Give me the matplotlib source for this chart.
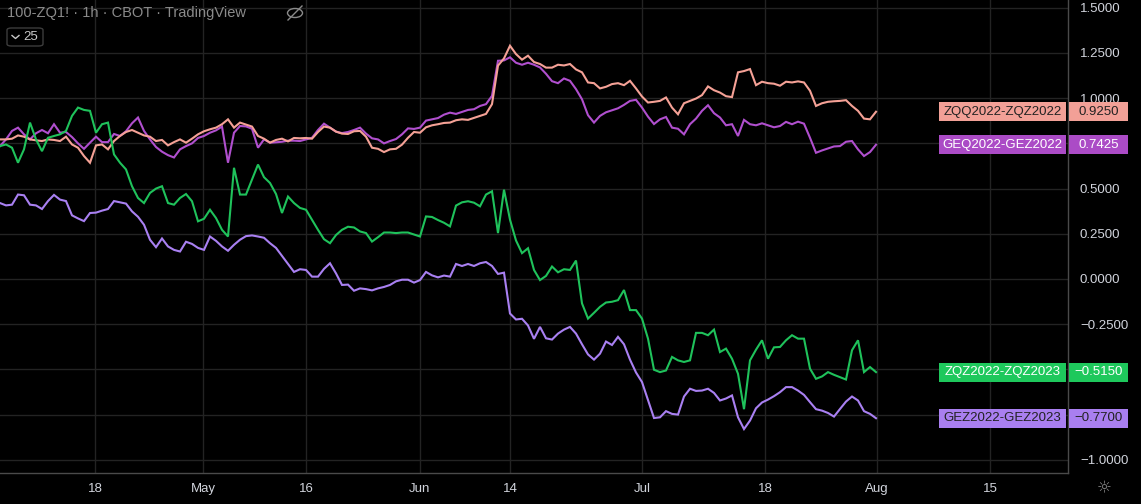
import numpy as np
import matplotlib
matplotlib.use('Agg')
import matplotlib.pyplot as plt
from matplotlib import transforms
from matplotlib.patches import Rectangle, FancyBboxPatch, Ellipse
from matplotlib.lines import Line2D

plt.rcParams['font.family'] = ['Liberation Sans', 'DejaVu Sans']

W, H = 1141, 504

# ── данни (по една точка на ~половин търговски ден) ──
zqq_22 = [
    0.772, 0.772, 0.776, 0.794, 0.787, 0.772, 0.767, 0.763, 0.772, 0.769,
    0.763, 0.787, 0.744, 0.726, 0.680, 0.643, 0.739, 0.744, 0.717, 0.763,
    0.791, 0.813, 0.824, 0.809, 0.794, 0.787, 0.763, 0.769, 0.739, 0.757,
    0.772, 0.754, 0.776, 0.800, 0.817, 0.828, 0.837, 0.856, 0.883, 0.837,
    0.865, 0.854, 0.843, 0.791, 0.776, 0.754, 0.769, 0.776, 0.761, 0.780,
    0.778, 0.780, 0.776, 0.813, 0.843, 0.837, 0.815, 0.804, 0.802, 0.817,
    0.819, 0.787, 0.726, 0.720, 0.702, 0.717, 0.720, 0.743, 0.781, 0.813,
    0.809, 0.839, 0.850, 0.856, 0.863, 0.865, 0.878, 0.883, 0.880, 0.891,
    0.902, 0.913, 0.967, 1.180, 1.220, 1.290, 1.244, 1.213, 1.235, 1.200,
    1.189, 1.169, 1.169, 1.185, 1.181, 1.189, 1.159, 1.143, 1.087, 1.083,
    1.054, 1.063, 1.078, 1.083, 1.072, 1.096, 1.054, 1.009, 0.976, 0.980,
    0.985, 1.004, 0.948, 0.911, 0.972, 0.985, 0.998, 1.017, 1.065, 1.044,
    1.031, 1.011, 1.006, 1.143, 1.150, 1.161, 1.072, 1.091, 1.083, 1.080,
    1.069, 1.091, 1.087, 1.093, 1.087, 1.041, 0.957, 0.972, 0.980, 0.983,
    0.985, 0.989, 0.957, 0.930, 0.887, 0.883, 0.925,
]
geq_22 = [
    0.735, 0.772, 0.819, 0.837, 0.800, 0.772, 0.806, 0.824, 0.806, 0.856,
    0.809, 0.813, 0.785, 0.750, 0.720, 0.754, 0.787, 0.757, 0.757, 0.802,
    0.791, 0.817, 0.861, 0.893, 0.819, 0.772, 0.730, 0.704, 0.685, 0.672,
    0.717, 0.735, 0.750, 0.780, 0.791, 0.809, 0.822, 0.843, 0.643, 0.809,
    0.846, 0.844, 0.831, 0.726, 0.772, 0.754, 0.756, 0.759, 0.765, 0.765,
    0.763, 0.772, 0.781, 0.824, 0.859, 0.837, 0.815, 0.807, 0.813, 0.824,
    0.837, 0.804, 0.778, 0.772, 0.750, 0.763, 0.774, 0.800, 0.833, 0.830,
    0.837, 0.876, 0.883, 0.890, 0.909, 0.920, 0.913, 0.924, 0.935, 0.939,
    0.957, 0.967, 1.013, 1.207, 1.209, 1.226, 1.196, 1.185, 1.196, 1.185,
    1.170, 1.135, 1.094, 1.083, 1.109, 1.096, 1.050, 0.994, 0.906, 0.865,
    0.902, 0.922, 0.933, 0.944, 0.963, 0.985, 0.991, 0.948, 0.898, 0.857,
    0.883, 0.896, 0.837, 0.831, 0.800, 0.856, 0.887, 0.930, 0.961, 0.917,
    0.893, 0.850, 0.856, 0.791, 0.880, 0.856, 0.850, 0.861, 0.850, 0.839,
    0.846, 0.869, 0.856, 0.870, 0.859, 0.781, 0.698, 0.711, 0.722, 0.733,
    0.735, 0.759, 0.763, 0.717, 0.680, 0.702, 0.7425,
]
zqz_23 = [
    0.735, 0.744, 0.726, 0.643, 0.717, 0.865, 0.772, 0.707, 0.781, 0.791,
    0.800, 0.819, 0.902, 0.948, 0.935, 0.930, 0.809, 0.856, 0.865, 0.689,
    0.643, 0.606, 0.513, 0.448, 0.420, 0.476, 0.500, 0.513, 0.420, 0.411,
    0.448, 0.470, 0.430, 0.319, 0.333, 0.383, 0.337, 0.272, 0.235, 0.615,
    0.467, 0.467, 0.550, 0.633, 0.563, 0.531, 0.470, 0.365, 0.456, 0.420,
    0.393, 0.383, 0.328, 0.272, 0.220, 0.198, 0.243, 0.272, 0.289, 0.285,
    0.263, 0.254, 0.207, 0.231, 0.257, 0.257, 0.254, 0.257, 0.257, 0.246,
    0.235, 0.346, 0.343, 0.326, 0.311, 0.291, 0.406, 0.424, 0.430, 0.422,
    0.402, 0.467, 0.485, 0.254, 0.494, 0.328, 0.213, 0.143, 0.170, 0.050,
    -0.006, 0.017, 0.069, 0.037, 0.054, 0.050, 0.102, -0.135, -0.219, -0.187,
    -0.154, -0.130, -0.126, -0.117, -0.061, -0.172, -0.172, -0.219, -0.330, -0.502,
    -0.515, -0.506, -0.431, -0.450, -0.459, -0.450, -0.298, -0.298, -0.311, -0.280,
    -0.404, -0.385, -0.441, -0.524, -0.720, -0.450, -0.391, -0.339, -0.441, -0.378,
    -0.376, -0.339, -0.311, -0.330, -0.330, -0.496, -0.552, -0.539, -0.515, -0.530,
    -0.543, -0.556, -0.394, -0.339, -0.515, -0.487, -0.515,
]
gez_23 = [
    0.420, 0.407, 0.411, 0.467, 0.463, 0.411, 0.407, 0.387, 0.431, 0.465,
    0.439, 0.431, 0.352, 0.335, 0.320, 0.365, 0.367, 0.378, 0.387, 0.431,
    0.424, 0.417, 0.374, 0.344, 0.300, 0.217, 0.176, 0.224, 0.180, 0.161,
    0.152, 0.206, 0.194, 0.172, 0.161, 0.235, 0.211, 0.180, 0.156, 0.189,
    0.217, 0.237, 0.241, 0.235, 0.228, 0.198, 0.172, 0.128, 0.083, 0.039,
    0.054, 0.050, 0.013, 0.013, 0.056, 0.087, 0.031, -0.033, -0.031, -0.065,
    -0.052, -0.056, -0.063, -0.052, -0.044, -0.033, -0.013, -0.004, -0.004, -0.020,
    -0.006, 0.039, 0.020, 0.009, 0.019, 0.013, 0.083, 0.072, 0.083, 0.072,
    0.087, 0.094, 0.072, 0.028, 0.035, -0.191, -0.224, -0.220, -0.257, -0.331,
    -0.265, -0.328, -0.335, -0.302, -0.280, -0.265, -0.302, -0.361, -0.417, -0.446,
    -0.413, -0.346, -0.365, -0.320, -0.361, -0.446, -0.517, -0.570, -0.669, -0.769,
    -0.765, -0.731, -0.746, -0.750, -0.650, -0.607, -0.619, -0.617, -0.607, -0.630,
    -0.672, -0.661, -0.644, -0.765, -0.830, -0.783, -0.715, -0.683, -0.667, -0.648,
    -0.626, -0.598, -0.598, -0.617, -0.641, -0.681, -0.720, -0.728, -0.741, -0.761,
    -0.719, -0.678, -0.650, -0.672, -0.731, -0.746, -0.770,
]

tick_pos = [15.83, 33.83, 51.0, 70.0, 85.0, 107.0, 127.5, 146.17, 165.0]
tick_lab = ['18', 'May', '16', 'Jun', '14', 'Jul', '18', 'Aug', '15']
y_ticks = [-1.0, -0.75, -0.5, -0.25, 0.0, 0.25, 0.5, 0.75, 1.0, 1.25, 1.5]
# стойности, скрити зад етикетите на сериите
y_hidden = [-0.75, -0.5, 0.75]

# име, данни, цвят на линията, цвят на етикета, цвят на текста
series = [
    ('GEQ2022-GEZ2022', geq_22, '#b04fce', '#ab4bc6', '#ffffff'),
    ('ZQQ2022-ZQZ2022', zqq_22, '#f5a196', '#f2a097', '#222222'),
    ('GEZ2022-GEZ2023', gez_23, '#a980f2', '#a97ff0', '#222222'),
    ('ZQZ2022-ZQZ2023', zqz_23, '#1fc25b', '#1ec85c', '#ffffff'),
]

BG = '#000000'
GRID = '#232323'
AXC = '#4a4a4a'
TXT = '#d1d4dc'

fig = plt.figure(figsize=(W / 100, H / 100), dpi=100, facecolor=BG)
ax = fig.add_axes([0, 31 / H, 1068 / W, 473 / H])
ax.set_facecolor(BG)

x = np.arange(len(zqq_22))
for name, vals, lc, bc, tc in series:
    ax.plot(x, vals, color=lc, lw=1.5, solid_joinstyle='miter')

ax.set_xlim(0, 178)
ax.set_ylim(-1.073, 1.543)

ax.yaxis.tick_right()
ylabels = ['' if v in y_hidden else f'{v:.4f}'.replace('-', '\u2212')
           for v in y_ticks]
ax.set_yticks(y_ticks, ylabels)
ax.set_xticks(tick_pos, tick_lab)
ax.tick_params(axis='y', length=0, pad=8.6, labelsize=9.5, labelcolor=TXT)
ax.tick_params(axis='x', length=0, pad=7, labelsize=9.5, labelcolor=TXT)
ax.grid(True, color=GRID, lw=1)
ax.set_axisbelow(True)
for s in ['top', 'left']:
    ax.spines[s].set_visible(False)
for s in ['right', 'bottom']:
    ax.spines[s].set_color(AXC)
    ax.spines[s].set_linewidth(1)

# ── заглавие и икони ──
def fx(px):
    return px / W


def fy(py):
    return 1 - py / H


fig.text(fx(7), fy(13), '100-ZQ1! \u00b7 1h \u00b7 CBOT \u00b7 TradingView',
         color='#8a8a8a', fontsize=10.5, va='center', ha='left')
fig.add_artist(Ellipse((fx(295), fy(13)), 15 / W, 9 / H, fill=False,
                       ec='#8a8a8a', lw=1, transform=fig.transFigure))
fig.add_artist(Line2D([fx(288), fx(302)], [fy(20), fy(6)], color='#8a8a8a',
                      lw=1, transform=fig.transFigure))

fig.add_artist(FancyBboxPatch((fx(7), fy(46)), 36 / W, 18 / H,
                              boxstyle='round,pad=0,rounding_size=0.004',
                              fill=False, ec='#3c3c3c', lw=1,
                              transform=fig.transFigure))
fig.add_artist(Line2D([fx(12), fx(15.5), fx(19)], [fy(35.5), fy(38.5), fy(35.5)],
                      color='#c8c8c8', lw=1, transform=fig.transFigure))
fig.text(fx(23), fy(37), '25', color='#c8c8c8', fontsize=9.5,
         va='center', ha='left')

fig.text(fx(1104), fy(488), '\u263c', color='#8a8a8a', fontsize=12,
         va='center', ha='center', family=['DejaVu Sans'])

# ── етикети с последната стойност ──
bt = transforms.blended_transform_factory(fig.transFigure, ax.transData)
hh = 9.5 / 180.8
for name, vals, lc, bc, tc in series:
    last = vals[-1]
    fig.add_artist(Rectangle((fx(939), last - hh), 127 / W, 2 * hh,
                             transform=bt, color=bc, lw=0))
    fig.add_artist(Rectangle((fx(1069), last - hh), 59 / W, 2 * hh,
                             transform=bt, color=bc, lw=0))
    fig.text(fx(1002.5), last, name, transform=bt, color=tc, fontsize=9.5,
             ha='center', va='center')
    fig.text(fx(1098.5), last, f'{last:.4f}'.replace('-', '\u2212'),
             transform=bt, color=tc, fontsize=9.5, ha='center', va='center')

plt.savefig('out.png', dpi=100, facecolor=BG)
plt.close()
